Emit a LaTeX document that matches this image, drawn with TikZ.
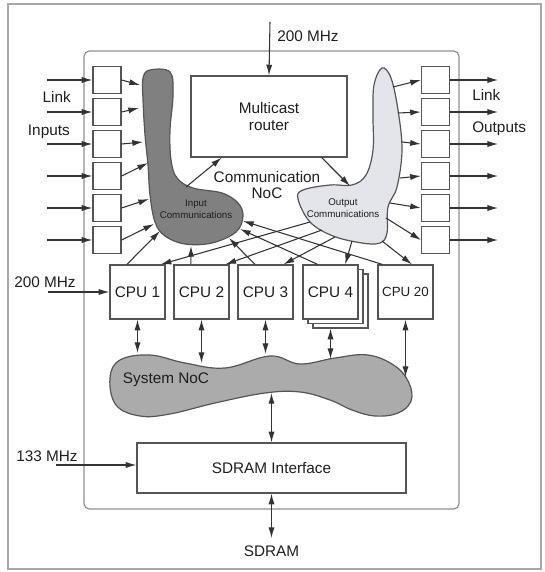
\documentclass[tikz,border=0pt]{standalone}
\usepackage{fontspec}
\setmainfont{Liberation Sans}
\usetikzlibrary{arrows.meta,positioning}
\definecolor{ink}{HTML}{1E1E1E}
\definecolor{wire}{HTML}{333333}
\definecolor{edge}{HTML}{555555}
\definecolor{frame}{HTML}{A8A8A8}
\definecolor{inblob}{HTML}{808080}
\definecolor{outblob}{HTML}{E3E5EA}
\definecolor{sysblob}{HTML}{ABABAB}
\tikzset{
  >={Latex[length=8pt,width=4.6pt]},
  every node/.style={font=\fontsize{11.5}{13}\selectfont,text=ink},
  port/.style={draw=edge,line width=0.9pt,fill=white,minimum width=21pt,minimum height=20.25pt,inner sep=0pt},
  cpubox/.style={port,minimum width=41.25pt,minimum height=40.5pt},
  router/.style={port,minimum width=117pt,minimum height=60.75pt,align=center},
  membox/.style={port,minimum width=201.75pt,minimum height=37.5pt},
  chip/.style={draw=frame!85!black,line width=0.9pt,rounded corners=4pt,minimum width=281.25pt,minimum height=343.5pt},
  outerframe/.style={draw=frame,line width=1.4pt},
  blob/.style={draw=edge,line width=0.9pt},
  tiny/.style={font=\fontsize{7.3}{9}\selectfont,align=center,inner sep=0pt},
  lbl/.style={inner sep=0pt},
  arrow/.style={->,line width=0.8pt,draw=wire},
  biarrow/.style={<->,line width=0.8pt,draw=wire},
}

\begin{document}
\begin{tikzpicture}[x=0.75pt,y=-0.75pt]
\useasboundingbox (0,0) rectangle (545,572);
\draw[outerframe] (8,4) rectangle (541,569);
\node[chip] (chip) at (271.5,280) {};

% communication NoC
\draw[blob,fill=inblob] plot[smooth cycle,tension=0.6] coordinates {(150,70) (170,72) (173,95) (170,130) (171,160) (177,178) (193,188) (222,193) (238,203) (243,216) (236,232) (212,243) (185,244) (165,236) (155,222) (150,195) (148,165) (145,135) (143,100) (143,78)};
\draw[blob,fill=outblob] plot[smooth cycle,tension=0.6] coordinates {(382,68) (391,78) (398,110) (402,150) (397,187) (388,207) (387,233) (380,243) (362,243) (333,236) (310,222) (298,199) (303,190) (330,185) (352,185) (366,175) (373,150) (373,115) (374,85)};
\node[tiny] (inlbl) at (196,209) {Input\\Communications};
\node[tiny] (outlbl) at (343,208) {Output\\Communications};
\node[router] (router) at (269,116.5) {Multicast\\router};
\node[align=center,font=\fontsize{11.5}{12}\selectfont] (noclbl) at (267,185) {Communication\\NoC};

% system NoC
\draw[blob,fill=sysblob] plot[smooth cycle,tension=0.65] coordinates {(110,378) (120,360) (150,355) (185,363) (225,368) (270,356) (300,364) (335,358) (368,355) (395,366) (409,383) (411,401) (398,413) (375,416) (352,410) (330,400) (300,392) (265,393) (215,403) (170,414) (140,416) (116,405)};
\node[lbl] (syslbl) at (166,380) {System NoC};

% link ports
\foreach \i/\y in {1/80,2/112,3/144,4/176,5/208,6/240}{
  \node[port] (in\i) at (107,\y) {};
  \node[port] (out\i) at (435.5,\y) {};
  \draw[arrow] ([xshift=-33.75pt]in\i.west) -- (in\i.west);
  \draw[arrow] (out\i.east) -- ([xshift=36pt]out\i.east);
}
\node[lbl,anchor=base east] (linkin) at (71,102) {Link};
\node[lbl,anchor=base east] (inputs) at (70,135) {Inputs};
\node[lbl,anchor=base west] (linkout) at (472,100) {Link};
\node[lbl,anchor=base west] (outputs) at (472,132) {Outputs};

% processors and memory
\node[cpubox] (cpu1) at (137.5,292) {CPU 1};
\node[cpubox] (cpu2) at (201.5,292) {CPU 2};
\node[cpubox] (cpu3) at (265.5,292) {CPU 3};
\node[cpubox] (cpu4c) at (340.5,301) {};
\node[cpubox] (cpu4b) at (335.5,296.5) {};
\node[cpubox] (cpu4) at (330.5,292) {CPU 4};
\node[cpubox,font=\fontsize{10}{12}\selectfont] (cpu20) at (405.5,292) {CPU 20};
\node[membox] (sdram) at (271.5,468) {SDRAM Interface};

% clocks and pins
\node[lbl,anchor=base west] (clkAlbl) at (277,41) {200 MHz};
\node[lbl,anchor=base west] (clkBlbl) at (14,287) {200 MHz};
\node[lbl,anchor=base west] (clkClbl) at (16,461) {133 MHz};
\node[lbl,anchor=base] (memlbl) at (271.5,556) {SDRAM};
\coordinate (clkA) at (270,22);
\coordinate (clkB) at (48,292);
\coordinate (clkC) at (56,465);
\coordinate (mempin) at (271.5,538);

% blob attachment points
\coordinate (ic1) at (140,85);
\coordinate (ic2) at (139,108);
\coordinate (ic3) at (143,142);
\coordinate (ic4) at (148,163);
\coordinate (ic5) at (149,199);
\coordinate (ic6) at (154,224);
\coordinate (ic7) at (186,187);
\coordinate (oc1) at (393,87);
\coordinate (oc2) at (398,113);
\coordinate (oc3) at (402,142);
\coordinate (oc4) at (400,178);
\coordinate (oc5) at (390,203);
\coordinate (oc6) at (386,218);
\coordinate (oc7) at (350,186);
\coordinate (icb1) at (160,231);
\coordinate (icb2) at (191,246);
\coordinate (icb3) at (229,238);
\coordinate (icb4) at (240,229);
\coordinate (icb5) at (243,221);
\coordinate (ocb1) at (310,222);
\coordinate (ocb2) at (322,230);
\coordinate (ocb3) at (335,237);
\coordinate (ocb4) at (352,241);
\coordinate (ocb5) at (382,241);
\coordinate (sn1) at (137.5,353);
\coordinate (sn2) at (201.5,363);
\coordinate (sn3) at (265.5,354);
\coordinate (sn4) at (330.5,359);
\coordinate (sn5) at (405.5,377);
\coordinate (sn6) at (271.5,393);

\draw[arrow] (in1.east) -- (ic1);
\draw[arrow] (in2.east) -- (ic2);
\draw[arrow] (in3.east) -- (ic3);
\draw[arrow] (in4.east) -- (ic4);
\draw[arrow] (in5.east) -- (ic5);
\draw[arrow] (in6.east) -- (ic6);
\draw[arrow] (oc1) -- (out1.west);
\draw[arrow] (oc2) -- (out2.west);
\draw[arrow] (oc3) -- (out3.west);
\draw[arrow] (oc4) -- (out4.west);
\draw[arrow] (oc5) -- (out5.west);
\draw[arrow] (oc6) -- (out6.west);
\draw[arrow] (ic7) -- (router.221);
\draw[arrow] (router.-38) -- (oc7);

\draw[arrow] (cpu1.111) -- (icb1);
\draw[arrow] (cpu2.111) -- (icb2);
\draw[arrow] (cpu3.111) -- (icb3);
\draw[arrow] (cpu4.115) -- (icb4);
\draw[arrow] (cpu20.130) -- (icb5);
\draw[arrow] (ocb1) -- (cpu1.50);
\draw[arrow] (ocb2) -- (cpu2.49);
\draw[arrow] (ocb3) -- (cpu3.57);
\draw[arrow] (ocb4) -- (cpu4.62);
\draw[arrow] (ocb5) -- (cpu20.77);

\draw[biarrow] (cpu1.south) -- (sn1);
\draw[biarrow] (cpu2.south) -- (sn2);
\draw[biarrow] (cpu3.south) -- (sn3);
\draw[biarrow] (cpu4.south |- cpu4c.south) -- (sn4);
\draw[biarrow] (cpu20.south) -- (sn5);
\draw[biarrow] (sn6) -- (sdram.north);
\draw[biarrow] (sdram.south) -- (mempin);

\draw[arrow] (clkA) -- (router.north);
\draw[arrow] (clkB) -- (cpu1.west);
\draw[arrow] (clkC) -- (clkC -| sdram.west);
\end{tikzpicture}
\end{document}
